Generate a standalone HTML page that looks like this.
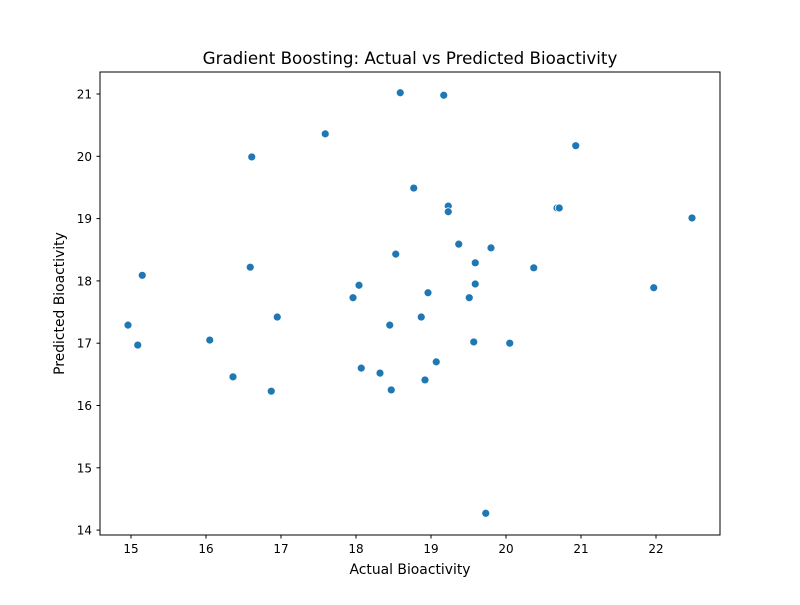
<!DOCTYPE html>
<html><head><meta charset="utf-8"><style>
body{margin:0;background:#fff;}
svg text{font-family:"DejaVu Sans","Liberation Sans",sans-serif;fill:#000;}
</style></head><body>
<svg id="chart" width="800" height="600">
<rect width="800" height="600" fill="#fff"/>
<text x="410" y="64" font-size="16.7" text-anchor="middle">Gradient Boosting: Actual vs Predicted Bioactivity</text>
<text x="410" y="574" font-size="13.9" text-anchor="middle">Actual Bioactivity</text>
<text transform="translate(64,303.5) rotate(-90)" font-size="13.9" text-anchor="middle">Predicted Bioactivity</text>
<g id="xticks"></g>
<g id="yticks"></g>
<g id="points"></g>
<rect x="100" y="72" width="620" height="463" fill="none" stroke="#000" stroke-width="1"/>
</svg>
<script>
const actual=[18.59,19.17,17.59,20.93,16.61,18.77,19.23,19.23,20.68,20.71,22.48,19.37,19.80,18.53,19.59,16.59,20.37,15.15,18.04,19.59,21.97,18.96,17.96,19.51,16.95,18.87,14.96,18.45,16.05,19.57,20.05,15.09,19.07,18.07,18.32,16.36,18.92,18.47,16.87,19.73];
const predicted=[21.02,20.98,20.36,20.17,19.99,19.49,19.20,19.11,19.17,19.17,19.01,18.59,18.53,18.43,18.29,18.22,18.21,18.09,17.93,17.95,17.89,17.81,17.73,17.73,17.42,17.42,17.29,17.29,17.05,17.02,17.00,16.97,16.70,16.60,16.52,16.46,16.41,16.25,16.23,14.27];
const xTickLabels=[15,16,17,18,19,20,21,22];
const yTickLabels=[14,15,16,17,18,19,20,21];
const NS="http://www.w3.org/2000/svg";
function xs(v){return 131+(v-15)*75;}
function ys(v){return 94+(21-v)*62.3;}
function mk(tag,attrs,parent){const e=document.createElementNS(NS,tag);for(const k in attrs)e.setAttribute(k,attrs[k]);parent.appendChild(e);return e;}
const gx=document.getElementById('xticks'),gy=document.getElementById('yticks'),gp=document.getElementById('points');
xTickLabels.forEach(t=>{const x=xs(t);
const l=mk('line',{x1:x,x2:x,y1:535,y2:538.5,stroke:'#000'},gx);


const tx=mk('text',{x:x,y:553,'font-size':12,'text-anchor':'middle'},gx);tx.textContent=t;

});
yTickLabels.forEach(t=>{const y=ys(t);
const l=mk('line',{x1:96.5,x2:100,y1:y,y2:y,stroke:'#000'},gy);


const tx=mk('text',{x:92,y:y+4.5,'font-size':12,'text-anchor':'end'},gy);tx.textContent=t;

});
actual.forEach((a,i)=>{const c=mk('circle',{cx:xs(a),cy:ys(predicted[i]),r:4,fill:'#1f77b4',stroke:'#fff','stroke-width':0.8},gp);

});
</script>
</body></html>
